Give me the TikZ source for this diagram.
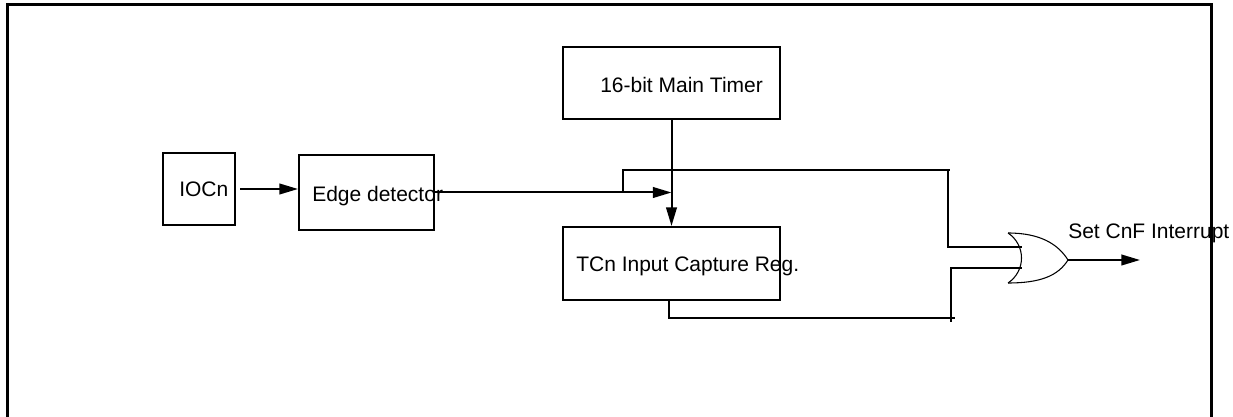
\documentclass[tikz,border=0pt]{standalone}
\usepackage{fontspec}
\setmainfont{Liberation Sans}
\usetikzlibrary{arrows.meta,positioning,calc}

\begin{document}
\begin{tikzpicture}[x=0.75pt,y=-0.75pt,
  blockbox/.style={draw, line width=1.5pt, inner sep=0pt},
  lbl/.style={inner sep=0pt, anchor=base west, font=\fontsize{15.75}{18}\selectfont},
  wire/.style={line width=1.5pt},
  sig/.style={wire, -{Triangle[length=14pt,width=8pt]}}]
\useasboundingbox (0,0) rectangle (1233,417);
% outer frame (open at the bottom)
\draw[line width=2.3pt] (7.5,417) -- (7.5,4.2) -- (1211.5,4.2) -- (1211.5,417);

% blocks
\node[blockbox, minimum width=54pt, minimum height=54pt] (ioc) at (199,189) {};
\node[blockbox, minimum width=101.25pt, minimum height=56.25pt] (edge) at (366.5,192.5) {};
\node[blockbox, minimum width=162.75pt, minimum height=54pt] (timer) at (671.5,83) {};
\node[blockbox, minimum width=162.75pt, minimum height=54.75pt] (tcn) at (671.5,263.5) {};

% block texts (left aligned, may run past the box)
\node[lbl] (ioctxt) at (179,197) {IOCn};
\node[lbl] (edgetxt) at (312,202) {Edge detector};
\node[lbl] (timertxt) at (600,93) {16-bit Main Timer};
\node[lbl] (tcntxt) at (576,272) {TCn Input Capture Reg.};

% OR gate
\coordinate (orA) at (1022,247);
\coordinate (orB) at (1022,268);
\coordinate (orOut) at (1068,260);
\draw[line width=0.8pt] (1008,233) .. controls (1026,245) and (1026,271) .. (1008,283);
\draw[line width=0.8pt] (1008,233) .. controls (1040,233) and (1058,244) .. (orOut)
  .. controls (1058,276) and (1040,283) .. (1008,283);

% connectors
\draw[sig] ([xshift=3pt]ioc.east) -- (ioc.east -| edge.west);
\draw[sig] (edge.east) -- (edge.east -| tcn.north);
\draw[sig] (timer.south) -- (tcn.north);
\coordinate (tap) at (623,192);
\draw[wire] (tap) |- (950,170);
\draw[wire] (948,170) |- (orA);
\draw[wire] ([xshift=-2pt]tcn.south) |- (955,318);
\draw[wire] (951,322) |- (orB);
\draw[sig] (orOut) -- ++(72,0) coordinate (irq);
\node[lbl] (irqtxt) at (1068,239) {Set CnF Interrupt};
\end{tikzpicture}
\end{document}
